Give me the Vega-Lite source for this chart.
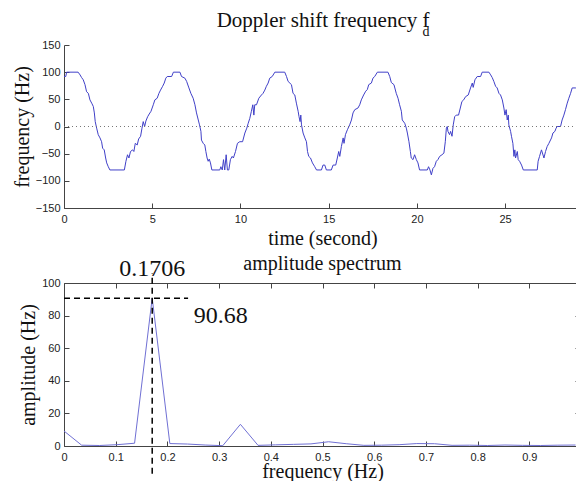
{
  "$schema": "https://vega.github.io/schema/vega-lite/v6.json",
  "background": "white",
  "padding": {"left": 12, "top": 10, "right": 0, "bottom": 0},
  "bounds": "flush",
  "spacing": 75,
  "config": {
    "view": {"stroke": null},
    "axis": {
      "domainColor": "#444", "tickColor": "#444", "grid": false, "tickSize": -5,
      "labelFont": "Liberation Sans", "labelFontSize": 11, "labelColor": "#222",
      "titleFont": "Liberation Serif", "titleFontSize": 20, "titleFontWeight": "normal", "titleColor": "#111",
      "labelOverlap": false, "labelFlush": false
    },
    "title": {"font": "Liberation Serif", "fontSize": 20, "fontWeight": "normal", "color": "#111", "frame": "group"}
  },
  "datasets": {
    "series": [
      {"t":0.00,"v":92},{"t":0.10,"v":92},{"t":0.15,"v":100},{"t":0.80,"v":100},{"t":0.91,"v":95},{"t":1.00,"v":90},{"t":1.09,"v":86},{"t":1.19,"v":77},{"t":1.28,"v":64},{"t":1.38,"v":61},{"t":1.47,"v":49},{"t":1.57,"v":43},{"t":1.66,"v":37},{"t":1.72,"v":25},{"t":1.77,"v":9},{"t":1.85,"v":-3},{"t":1.94,"v":-15},{"t":2.04,"v":-21},{"t":2.13,"v":-28},{"t":2.19,"v":-40},{"t":2.28,"v":-43},{"t":2.36,"v":-58},{"t":2.42,"v":-67},{"t":2.51,"v":-74},{"t":2.60,"v":-80},{"t":3.42,"v":-80},{"t":3.51,"v":-64},{"t":3.60,"v":-52},{"t":3.68,"v":-58},{"t":3.77,"v":-46},{"t":3.89,"v":-43},{"t":3.96,"v":-46},{"t":4.04,"v":-31},{"t":4.15,"v":-34},{"t":4.23,"v":-23},{"t":4.34,"v":-18},{"t":4.42,"v":-3},{"t":4.49,"v":9},{"t":4.57,"v":0},{"t":4.64,"v":10},{"t":4.74,"v":18},{"t":4.83,"v":23},{"t":4.93,"v":28},{"t":5.06,"v":40},{"t":5.15,"v":49},{"t":5.28,"v":52},{"t":5.38,"v":61},{"t":5.47,"v":67},{"t":5.59,"v":74},{"t":5.68,"v":80},{"t":5.77,"v":89},{"t":5.85,"v":92},{"t":6.10,"v":92},{"t":6.20,"v":100},{"t":6.57,"v":100},{"t":6.66,"v":92},{"t":6.85,"v":89},{"t":6.95,"v":83},{"t":7.08,"v":71},{"t":7.19,"v":61},{"t":7.32,"v":52},{"t":7.42,"v":40},{"t":7.51,"v":25},{"t":7.61,"v":12},{"t":7.68,"v":3},{"t":7.76,"v":-9},{"t":7.79,"v":-25},{"t":7.89,"v":-31},{"t":7.98,"v":-34},{"t":8.04,"v":-46},{"t":8.11,"v":-58},{"t":8.17,"v":-64},{"t":8.23,"v":-60},{"t":8.30,"v":-67},{"t":8.38,"v":-80},{"t":8.83,"v":-80},{"t":8.89,"v":-74},{"t":8.97,"v":-80},{"t":9.04,"v":-61},{"t":9.11,"v":-80},{"t":9.19,"v":-52},{"t":9.26,"v":-80},{"t":9.34,"v":-80},{"t":9.43,"v":-61},{"t":9.53,"v":-55},{"t":9.60,"v":-58},{"t":9.72,"v":-46},{"t":9.83,"v":-31},{"t":9.96,"v":-28},{"t":10.12,"v":-28},{"t":10.25,"v":-12},{"t":10.36,"v":-3},{"t":10.44,"v":6},{"t":10.53,"v":15},{"t":10.62,"v":28},{"t":10.70,"v":40},{"t":10.76,"v":21},{"t":10.81,"v":40},{"t":10.91,"v":40},{"t":11.04,"v":52},{"t":11.19,"v":58},{"t":11.28,"v":61},{"t":11.38,"v":67},{"t":11.47,"v":74},{"t":11.57,"v":80},{"t":11.66,"v":89},{"t":11.80,"v":92},{"t":11.95,"v":100},{"t":12.51,"v":100},{"t":12.61,"v":92},{"t":12.70,"v":83},{"t":12.89,"v":77},{"t":12.98,"v":61},{"t":13.08,"v":58},{"t":13.17,"v":43},{"t":13.27,"v":28},{"t":13.32,"v":18},{"t":13.38,"v":9},{"t":13.42,"v":21},{"t":13.46,"v":3},{"t":13.55,"v":-12},{"t":13.65,"v":-21},{"t":13.74,"v":-28},{"t":13.80,"v":-46},{"t":13.87,"v":-55},{"t":13.97,"v":-58},{"t":14.08,"v":-67},{"t":14.21,"v":-74},{"t":14.31,"v":-80},{"t":14.59,"v":-80},{"t":14.68,"v":-71},{"t":14.78,"v":-71},{"t":14.87,"v":-80},{"t":15.15,"v":-80},{"t":15.25,"v":-71},{"t":15.40,"v":-71},{"t":15.49,"v":-58},{"t":15.57,"v":-46},{"t":15.63,"v":-55},{"t":15.72,"v":-37},{"t":15.82,"v":-21},{"t":15.87,"v":-31},{"t":15.95,"v":-15},{"t":16.06,"v":-6},{"t":16.19,"v":3},{"t":16.29,"v":12},{"t":16.38,"v":25},{"t":16.48,"v":31},{"t":16.66,"v":34},{"t":16.76,"v":40},{"t":16.85,"v":49},{"t":16.98,"v":58},{"t":17.10,"v":65},{"t":17.19,"v":68},{"t":17.27,"v":77},{"t":17.42,"v":80},{"t":17.51,"v":89},{"t":17.61,"v":92},{"t":17.76,"v":100},{"t":18.36,"v":100},{"t":18.46,"v":92},{"t":18.55,"v":81},{"t":18.70,"v":77},{"t":18.83,"v":61},{"t":18.93,"v":52},{"t":19.02,"v":40},{"t":19.12,"v":28},{"t":19.17,"v":12},{"t":19.31,"v":6},{"t":19.40,"v":-3},{"t":19.46,"v":-12},{"t":19.55,"v":-28},{"t":19.63,"v":-46},{"t":19.68,"v":-58},{"t":19.78,"v":-61},{"t":19.87,"v":-52},{"t":19.97,"v":-61},{"t":20.06,"v":-67},{"t":20.15,"v":-80},{"t":20.59,"v":-80},{"t":20.66,"v":-74},{"t":20.74,"v":-80},{"t":20.82,"v":-89},{"t":20.91,"v":-77},{"t":21.00,"v":-74},{"t":21.10,"v":-64},{"t":21.19,"v":-61},{"t":21.29,"v":-55},{"t":21.42,"v":-52},{"t":21.53,"v":-49},{"t":21.61,"v":-28},{"t":21.67,"v":-3},{"t":21.72,"v":0},{"t":21.76,"v":-9},{"t":21.85,"v":-15},{"t":21.91,"v":-9},{"t":21.99,"v":-18},{"t":22.06,"v":3},{"t":22.14,"v":18},{"t":22.23,"v":21},{"t":22.36,"v":21},{"t":22.46,"v":34},{"t":22.55,"v":46},{"t":22.65,"v":49},{"t":22.76,"v":55},{"t":22.91,"v":58},{"t":23.04,"v":71},{"t":23.14,"v":80},{"t":23.19,"v":72},{"t":23.29,"v":86},{"t":23.42,"v":92},{"t":23.61,"v":92},{"t":23.70,"v":100},{"t":24.08,"v":100},{"t":24.18,"v":95},{"t":24.27,"v":90},{"t":24.36,"v":83},{"t":24.46,"v":74},{"t":24.55,"v":71},{"t":24.65,"v":61},{"t":24.74,"v":58},{"t":24.84,"v":49},{"t":24.93,"v":34},{"t":24.99,"v":21},{"t":25.06,"v":31},{"t":25.12,"v":12},{"t":25.18,"v":21},{"t":25.21,"v":3},{"t":25.31,"v":-9},{"t":25.36,"v":-18},{"t":25.44,"v":-31},{"t":25.50,"v":-55},{"t":25.55,"v":-43},{"t":25.59,"v":-58},{"t":25.69,"v":-46},{"t":25.74,"v":-61},{"t":25.82,"v":-64},{"t":25.93,"v":-71},{"t":26.03,"v":-80},{"t":26.82,"v":-80},{"t":26.87,"v":-64},{"t":26.95,"v":-55},{"t":27.06,"v":-43},{"t":27.20,"v":-58},{"t":27.29,"v":-46},{"t":27.38,"v":-37},{"t":27.48,"v":-31},{"t":27.63,"v":-21},{"t":27.71,"v":-12},{"t":27.82,"v":-9},{"t":27.89,"v":-3},{"t":27.95,"v":0},{"t":28.14,"v":0},{"t":28.23,"v":12},{"t":28.33,"v":21},{"t":28.42,"v":31},{"t":28.52,"v":43},{"t":28.61,"v":52},{"t":28.71,"v":61},{"t":28.80,"v":71},{"t":29.00,"v":71},{"t":29.25,"v":75}
    ],
    "spectrum": [
      {"f":0.0000,"a":9.2},{"f":0.0341,"a":0.5},{"f":0.0682,"a":0.3},{"f":0.1024,"a":0.8},{"f":0.1365,"a":1.7},{"f":0.1706,"a":90.68},{"f":0.2047,"a":1.5},{"f":0.2388,"a":1.2},{"f":0.2730,"a":0.6},{"f":0.3071,"a":0.2},{"f":0.3412,"a":13.3},{"f":0.3753,"a":0.4},{"f":0.4094,"a":0.7},{"f":0.4435,"a":1.0},{"f":0.4777,"a":1.3},{"f":0.5118,"a":2.6},{"f":0.5459,"a":1.4},{"f":0.5800,"a":0.4},{"f":0.6141,"a":0.5},{"f":0.6482,"a":0.8},{"f":0.6824,"a":1.5},{"f":0.7165,"a":1.4},{"f":0.7506,"a":0.4},{"f":0.7847,"a":0.5},{"f":0.8188,"a":0.3},{"f":0.8529,"a":0.6},{"f":0.8871,"a":0.4},{"f":0.9212,"a":0.3},{"f":0.9553,"a":0.5},{"f":0.9894,"a":0.6}
    ],
    "marker": [{"f":0.1706,"a":90.68}],
    "zero": [{"v":0}]
  },
  "vconcat": [
    {
      "width": 517,
      "height": 163,
      "title": {
        "text": "Doppler shift frequency f\u00a0\u00a0",
        "subtitle": "d",
        "anchor": "middle",
        "align": "right",
        "dx": 107,
        "offset": 0,
        "fontSize": 21,
        "subtitleFont": "Liberation Serif",
        "subtitleFontSize": 14,
        "subtitleColor": "#111",
        "subtitlePadding": -6
      },
      "layer": [
        {
          "data": {"name": "series"},
          "mark": {"type": "line", "color": "#4040c8", "strokeWidth": 1},
          "encoding": {
            "x": {"field": "t", "type": "quantitative",
              "scale": {"domain": [0, 29.3], "nice": false, "zero": false},
              "axis": {"values": [0, 5, 10, 15, 20, 25], "title": "time (second)", "labelPadding": 10, "titlePadding": 4}},
            "y": {"field": "v", "type": "quantitative",
              "scale": {"domain": [-150, 150], "nice": false},
              "axis": {"values": [-150, -100, -50, 0, 50, 100, 150], "labelOverlap": false, "title": "frequency (Hz)", "labelPadding": 9, "titlePadding": 3}}
          }
        },
        {
          "data": {"name": "zero"},
          "mark": {"type": "rule", "color": "#777", "strokeDash": [1, 3], "strokeWidth": 1},
          "encoding": {"y": {"field": "v", "type": "quantitative",
            "axis": {"values": [-150, -100, -50, 0, 50, 100, 150], "labelOverlap": false, "title": "frequency (Hz)", "labelPadding": 9, "titlePadding": 3}}}
        }
      ]
    },
    {
      "width": 517,
      "height": 163,
      "title": {"text": "amplitude spectrum", "anchor": "middle", "offset": -17},
      "resolve": {"axis": {"x": "independent", "y": "independent"}},
      "layer": [
        {
          "data": {"name": "spectrum"},
          "mark": {"type": "line", "color": "#7070d4", "strokeWidth": 1},
          "encoding": {
            "x": {"field": "f", "type": "quantitative",
              "scale": {"domain": [0, 1], "nice": false},
              "axis": {"values": [0, 0.1, 0.2, 0.3, 0.4, 0.5, 0.6, 0.7, 0.8, 0.9], "format": "~g", "title": "frequency (Hz)", "labelPadding": 10, "titlePadding": -1}},
            "y": {"field": "a", "type": "quantitative",
              "scale": {"domain": [0, 100], "nice": false},
              "axis": {"values": [0, 20, 40, 60, 80, 100], "title": "amplitude (Hz)", "labelPadding": 9, "titlePadding": 3}}
          }
        },
        {
          "data": {"name": "marker"},
          "mark": {"type": "rule", "color": "black", "strokeDash": [6, 4], "strokeWidth": 1.5},
          "encoding": {
            "x": {"datum": 0, "type": "quantitative",
              "axis": {"orient": "top", "labels": false, "title": null, "values": [0, 0.1, 0.2, 0.3, 0.4, 0.5, 0.6, 0.7, 0.8, 0.9]}},
            "x2": {"datum": 0.24},
            "y": {"field": "a", "type": "quantitative",
              "axis": {"orient": "right", "labels": false, "title": null, "values": [20, 40, 60, 80], "tickSize": -6}}
          }
        },
        {
          "data": {"name": "marker"},
          "mark": {"type": "rule", "color": "black", "strokeDash": [6, 4], "strokeWidth": 1.5},
          "encoding": {
            "x": {"field": "f", "type": "quantitative", "axis": null},
            "y": {"datum": -17, "type": "quantitative", "axis": null},
            "y2": {"datum": 106}
          }
        },
        {
          "data": {"name": "marker"},
          "mark": {"type": "text", "font": "Liberation Serif", "fontSize": 24, "align": "center", "baseline": "alphabetic", "color": "#111"},
          "encoding": {
            "x": {"field": "f", "type": "quantitative", "axis": null},
            "y": {"datum": 104.3, "type": "quantitative", "axis": null},
            "text": {"field": "f", "type": "quantitative", "format": ".4f"}
          }
        },
        {
          "data": {"name": "marker"},
          "mark": {"type": "text", "font": "Liberation Serif", "fontSize": 24, "align": "left", "baseline": "alphabetic", "color": "#111"},
          "encoding": {
            "x": {"datum": 0.251, "type": "quantitative", "axis": null},
            "y": {"datum": 75.5, "type": "quantitative", "axis": null},
            "text": {"field": "a", "type": "quantitative", "format": ".2f"}
          }
        }
      ]
    }
  ]
}
